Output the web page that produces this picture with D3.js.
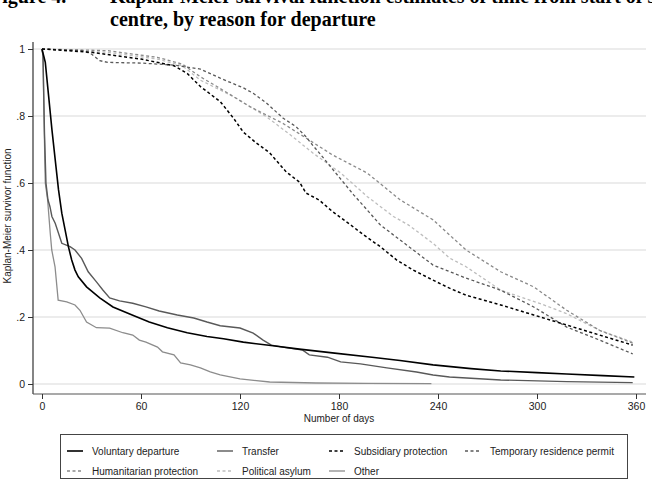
<!DOCTYPE html>
<html>
<head>
<meta charset="utf-8">
<script src="https://cdn.jsdelivr.net/npm/d3@7"></script>
<style>
  body { margin: 0; background: #fff; }
  svg { display: block; }
</style>
</head>
<body>
<div id="container"></div>
<script>
// tick labels
const xTicks = [0, 60, 120, 180, 240, 300, 360];
const yTicks = [0, 0.2, 0.4, 0.6, 0.8, 1];
const yTickLabels = ["0", ".2", ".4", ".6", ".8", "1"];

// series names, in legend order
const seriesNames = ["Voluntary departure", "Transfer", "Subsidiary protection",
  "Temporary residence permit", "Humanitarian protection", "Political asylum", "Other"];

// survivor estimates: [day, S(t)]
const voluntary = [[0,1],[1,0.98],[2,0.96],[4,0.86],[6,0.76],[8,0.67],[10,0.58],[12,0.51],[14,0.46],
  [16,0.41],[18,0.37],[20,0.34],[22,0.32],[27,0.29],[35,0.257],[43,0.23],[55,0.205],[65,0.185],
  [76,0.168],[88,0.153],[100,0.142],[110,0.135],[122,0.125],[140,0.114],[156,0.104],[176,0.093],
  [200,0.08],[217,0.07],[237,0.057],[260,0.046],[278,0.039],[300,0.034],[318,0.03],[340,0.025],[359,0.021]];
const transfer = [[0,1],[0.6,0.98],[1.5,0.75],[2.4,0.6],[3.6,0.55],[4.8,0.53],[6,0.5],[8,0.48],[12,0.42],
  [17,0.41],[20,0.4],[24,0.375],[28,0.335],[33,0.305],[37,0.28],[41,0.257],[47,0.248],[55,0.241],
  [63,0.23],[71,0.218],[82,0.206],[92,0.197],[100,0.185],[108,0.174],[120,0.167],[128,0.152],
  [134,0.131],[139,0.116],[146,0.11],[158,0.101],[162,0.087],[173,0.08],[181,0.066],[193,0.06],
  [209,0.048],[227,0.036],[237,0.027],[247,0.021],[278,0.012],[318,0.007],[358,0.004]];
const subsidiary = [[0,1],[30,0.99],[60,0.97],[80,0.95],[88,0.927],[96,0.888],[108,0.843],[116,0.794],
  [122,0.752],[130,0.719],[138,0.69],[148,0.633],[156,0.603],[160,0.57],[168,0.549],[176,0.515],
  [187,0.475],[195,0.445],[205,0.41],[215,0.37],[225,0.34],[237,0.31],[247,0.286],[257,0.265],
  [278,0.236],[298,0.206],[318,0.176],[338,0.146],[358,0.116]];
const temporary = [[0,1],[25,0.995],[30,0.985],[35,0.965],[40,0.96],[60,0.958],[80,0.952],[96,0.94],
  [108,0.913],[122,0.884],[128,0.868],[136,0.839],[146,0.794],[154,0.768],[160,0.738],[164,0.713],
  [168,0.69],[175,0.648],[183,0.6],[189,0.564],[197,0.52],[205,0.475],[217,0.43],[237,0.355],
  [257,0.316],[278,0.28],[298,0.23],[318,0.17],[338,0.131],[358,0.09]];
const humanitarian = [[0,1],[40,0.995],[70,0.975],[85,0.955],[96,0.917],[106,0.888],[126,0.828],
  [146,0.778],[162,0.728],[176,0.684],[197,0.63],[217,0.55],[237,0.49],[257,0.4],[278,0.335],
  [298,0.29],[318,0.22],[338,0.16],[358,0.122]];
const political = [[0,1],[40,0.99],[70,0.97],[85,0.95],[96,0.907],[116,0.858],[136,0.798],[152,0.738],
  [164,0.69],[181,0.63],[197,0.56],[213,0.5],[222,0.475],[237,0.42],[247,0.376],[257,0.35],
  [278,0.28],[302,0.24],[318,0.21],[338,0.16],[358,0.125]];
const other = [[0,1],[0.6,0.98],[1.2,0.8],[2,0.6],[3.4,0.55],[5,0.45],[5.9,0.4],[7.9,0.35],[9.8,0.25],
  [15,0.245],[20,0.236],[23,0.22],[27,0.185],[33,0.168],[41,0.167],[49,0.153],[55,0.146],[59,0.131],
  [63,0.125],[70,0.11],[73,0.096],[80,0.087],[84,0.063],[90,0.057],[96,0.048],[102,0.036],[108,0.027],
  [120,0.015],[138,0.006],[166,0.003],[197,0.002],[236,0.001]];

const seriesData = [voluntary, transfer, subsidiary, temporary, humanitarian, political, other];
const seriesStyle = [
  { color: "#000000", width: 1.6, dash: null },
  { color: "#595959", width: 1.4, dash: null },
  { color: "#000000", width: 1.5, dash: "3,2.5" },
  { color: "#595959", width: 1.3, dash: "3,2.5" },
  { color: "#8a8a8a", width: 1.3, dash: "3,2.5" },
  { color: "#bdbdbd", width: 1.3, dash: "3,2.5" },
  { color: "#8c8c8c", width: 1.3, dash: null }
];

const width = 652, height = 482;

let svg = d3.select("#container")
  .append("svg")
    .attr("width", width)
    .attr("height", height)
;

// title (top line is cut off in the original)
svg.append("text")
    .text("Figure 4.")
    .attr("x", -10)
    .attr("y", 3)
    .attr("font-family", "Liberation Serif")
    .attr("font-weight", "bold")
    .attr("font-size", 20)
;
svg.append("text")
    .text("Kaplan-Meier survival function estimates of time from start of stay in the")
    .attr("x", 110)
    .attr("y", 3)
    .attr("font-family", "Liberation Serif")
    .attr("font-weight", "bold")
    .attr("font-size", 20)
;
svg.append("text")
    .text("centre, by reason for departure")
    .attr("x", 110)
    .attr("y", 26)
    .attr("font-family", "Liberation Serif")
    .attr("font-weight", "bold")
    .attr("font-size", 20)
;

// scales
const x = d3.scaleLinear().domain([0, 360]).range([42, 636]);
const y = d3.scaleLinear().domain([0, 1]).range([384, 49]);

// gridlines
svg.append("g")
  .selectAll("line")
  .data(yTicks)
  .join("line")
    .attr("x1", 33)
    .attr("x2", 646)
    .attr("y1", d => y(d))
    .attr("y2", d => y(d))
    .attr("stroke", "#e6e6e6")
    .attr("stroke-width", 1.5)
;

// y axis
let yAxis = svg.append("g")
    .attr("transform", "translate(33,0)")
    .call(d3.axisLeft(y).tickValues(yTicks).tickFormat((d, i) => yTickLabels[i]).tickSize(5).tickPadding(3))
;
yAxis.select(".domain").attr("d", "M0,42V394").attr("stroke", "#333").attr("stroke-width", 1.2);
yAxis.selectAll(".tick line").attr("stroke", "#333");
yAxis.selectAll(".tick text")
    .attr("font-family", "Liberation Sans")
    .attr("font-size", 10.5)
    .attr("fill", "#222")
;

// x axis
let xAxis = svg.append("g")
    .attr("transform", "translate(0,394)")
    .call(d3.axisBottom(x).tickValues(xTicks).tickSize(5).tickPadding(4))
;
xAxis.select(".domain").attr("d", "M33,0H646").attr("stroke", "#555").attr("stroke-width", 1.2);
xAxis.selectAll(".tick line").attr("stroke", "#333");
xAxis.selectAll(".tick text")
    .attr("font-family", "Liberation Sans")
    .attr("font-size", 10.5)
    .attr("fill", "#222")
;

// axis titles
svg.append("text")
    .text("Number of days")
    .attr("x", 339)
    .attr("y", 422)
    .attr("text-anchor", "middle")
    .attr("font-family", "Liberation Sans")
    .attr("font-size", 10)
    .attr("fill", "#222")
;
svg.append("text")
    .text("Kaplan-Meier survivor function")
    .attr("transform", "translate(11,216) rotate(-90)")
    .attr("text-anchor", "middle")
    .attr("font-family", "Liberation Sans")
    .attr("font-size", 10)
    .attr("fill", "#222")
;

// survival curves (drawn back to front)
const line = d3.line().x(d => x(d[0])).y(d => y(d[1]));
const drawOrder = [5, 4, 3, 2, 6, 1, 0];
svg.append("g")
  .selectAll("path")
  .data(drawOrder)
  .join("path")
    .attr("d", i => line(seriesData[i]))
    .attr("fill", "none")
    .attr("stroke", i => seriesStyle[i].color)
    .attr("stroke-width", i => seriesStyle[i].width)
    .attr("stroke-dasharray", i => seriesStyle[i].dash)
;

// legend
svg.append("rect")
    .attr("x", 60.5)
    .attr("y", 434.5)
    .attr("width", 567)
    .attr("height", 44)
    .attr("fill", "#fff")
    .attr("stroke", "#444")
    .attr("stroke-width", 1)
;
const legendCol = [67, 217, 329, 465];
const legendRow = [451, 471];
let legend = svg.append("g")
  .selectAll("g")
  .data(seriesNames)
  .join("g")
    .attr("transform", (d, i) => `translate(${legendCol[i % 4]},${legendRow[Math.floor(i / 4)]})`)
;
legend.append("line")
    .attr("x1", 0)
    .attr("x2", 16)
    .attr("stroke", (d, i) => seriesStyle[i].color)
    .attr("stroke-width", (d, i) => seriesStyle[i].width)
    .attr("stroke-dasharray", (d, i) => seriesStyle[i].dash)
;
legend.append("text")
    .text(d => d)
    .attr("x", 25)
    .attr("y", 4)
    .attr("font-family", "Liberation Sans")
    .attr("font-size", 10)
    .attr("fill", "#222")
;
</script>
</body>
</html>
